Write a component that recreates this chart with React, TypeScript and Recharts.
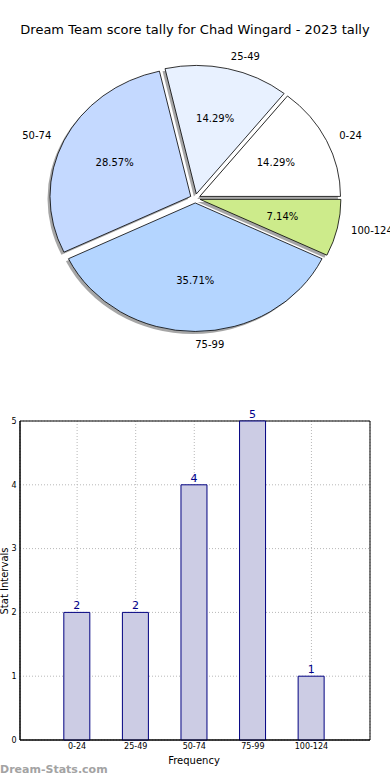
import React from 'react';
import { PieChart, Pie, Cell, BarChart, Bar, XAxis, YAxis, CartesianGrid, LabelList, ReferenceArea } from 'recharts';

const categories = ['0-24', '25-49', '50-74', '75-99', '100-124'];
const counts = [2, 2, 4, 5, 1];
const pieColors = ['#ffffff', '#e8f1ff', '#c4d9ff', '#b4d5ff', '#cdeb8b'];
const yTicks = [0, 1, 2, 3, 4, 5];
const xTicks = [0, 1, 2, 3, 4];
const title = 'Dream Team score tally for Chad Wingard - 2023 tally';

const pieData = categories.map((name, i) => ({ name, value: counts[i] }));
const barData = categories.map((name, i) => ({ x: i, name, value: counts[i] }));

const PIE_CX = 195.25;
const PIE_CY = 198.4;
const RX = 140.75;
const K = 128.5 / 140.75;
const EXPLODE = 5;
const RAD = Math.PI / 180;

function wedgePath(cx: number, cy: number, r: number, start: number, end: number) {
  const mid = ((start + end) / 2) * RAD;
  const ox = cx + EXPLODE * Math.cos(mid);
  const oy = cy - EXPLODE * K * Math.sin(mid);
  const ry = r * K;
  const p = (a: number) => [ox + r * Math.cos(a * RAD), oy - ry * Math.sin(a * RAD)];
  const [x1, y1] = p(start);
  const [x2, y2] = p(end);
  const large = Math.abs(end - start) > 180 ? 1 : 0;
  return `M${ox},${oy} L${x1},${y1} A${r},${ry} 0 ${large} 0 ${x2},${y2} Z`;
}

const WedgeShape = (props: any) => (
  <path
    d={wedgePath(props.cx, props.cy, props.outerRadius, props.startAngle, props.endAngle)}
    fill={props.fill}
    stroke="#000"
    strokeWidth={0.8}
  />
);

const ShadowShape = (props: any) => (
  <path
    d={wedgePath(props.cx, props.cy, props.outerRadius, props.startAngle, props.endAngle)}
    fill="#4d4d4d"
    fillOpacity={0.5}
    stroke="none"
  />
);

const renderLabel = (props: any) => {
  const { cx, cy, outerRadius: r, percent, name } = props;
  const midDeg = props.midAngle ?? (props.startAngle + props.endAngle) / 2;
  const a = midDeg * RAD;
  const ox = cx + EXPLODE * Math.cos(a);
  const oy = cy - EXPLODE * K * Math.sin(a);
  const lx = ox + 1.1 * r * Math.cos(a);
  const ly = oy - 1.1 * r * K * Math.sin(a);
  const px = ox + 0.6 * r * Math.cos(a);
  const py = oy - 0.6 * r * K * Math.sin(a);
  const anchor = Math.cos(a) >= -1e-9 ? 'start' : 'end';
  return (
    <g>
      <text x={lx} y={ly} textAnchor={anchor} dominantBaseline="central" fontSize={10} fill="#000">
        {name}
      </text>
      <text x={px} y={py} textAnchor="middle" dominantBaseline="central" fontSize={10} fill="#000">
        {(percent * 100).toFixed(2)}%
      </text>
    </g>
  );
};

const YTitle = () => (
  <text
    x={4}
    y={181}
    transform="rotate(-90 4 181)"
    textAnchor="middle"
    dominantBaseline="central"
    fontSize={10}
    fill="#000"
  >
    Stat Intervals
  </text>
);

const XTitle = () => (
  <text x={194} y={360} textAnchor="middle" dominantBaseline="central" fontSize={10} fill="#000">
    Frequency
  </text>
);

export default function App() {
  return (
    <div
      style={{
        position: 'absolute',
        left: 0,
        top: 0,
        width: 390,
        height: 780,
        background: '#fff',
        fontFamily: '"DejaVu Sans", sans-serif',
        overflow: 'hidden',
      }}
    >
      <div
        style={{
          position: 'absolute',
          left: 0,
          top: 21,
          width: 390,
          textAlign: 'center',
          fontSize: 13,
          color: '#000',
          lineHeight: '18px',
        }}
      >
        {title}
      </div>
      <div style={{ position: 'absolute', left: 0, top: 0 }}>
        <PieChart width={390} height={380} margin={{ top: 0, right: 0, bottom: 0, left: 0 }}>
          <Pie
            data={pieData}
            dataKey="value"
            nameKey="name"
            cx={PIE_CX - 2.5}
            cy={PIE_CY + 2.5}
            outerRadius={RX}
            startAngle={0}
            endAngle={360}
            isAnimationActive={false}
            shape={ShadowShape}
            inactiveShape={ShadowShape}
            activeShape={ShadowShape}
            stroke="none"
          />
          <Pie
            data={pieData}
            dataKey="value"
            nameKey="name"
            cx={PIE_CX}
            cy={PIE_CY}
            outerRadius={RX}
            startAngle={0}
            endAngle={360}
            isAnimationActive={false}
            shape={WedgeShape}
            inactiveShape={WedgeShape}
            activeShape={WedgeShape}
            label={renderLabel}
            labelLine={false}
          >
            {pieData.map((d, i) => (
              <Cell key={d.name} fill={pieColors[i]} />
            ))}
          </Pie>
        </PieChart>
      </div>
      <div style={{ position: 'absolute', left: 0, top: 400 }}>
        <BarChart width={390} height={380} data={barData} margin={{ top: 21, right: 20, bottom: 0, left: 0 }}>
          <XAxis
            dataKey="x"
            type="number"
            domain={[-0.975, 5]}
            ticks={xTicks}
            interval={0}
            allowDataOverflow
            tickFormatter={(v: number) => categories[v]}
            height={40}
            tickLine={false}
            tickSize={0}
            axisLine={{ stroke: '#000' }}
            tick={{ fontSize: 8, fill: '#000' }}
            tickMargin={3}
            label={{ content: XTitle }}
          />
          <YAxis
            type="number"
            domain={[0, 5]}
            ticks={yTicks}
            interval={0}
            width={20}
            tickLine={false}
            tickSize={0}
            axisLine={{ stroke: '#000' }}
            tick={{ fontSize: 8, fill: '#000' }}
            tickMargin={3.5}
            label={{ content: YTitle }}
          />
          <Bar dataKey="value" barSize={26} fill="#cccce4" stroke="#000080" strokeWidth={1} isAnimationActive={false}>
            <LabelList dataKey="value" position="top" fill="#00008b" fontSize={11} offset={3} />
          </Bar>
          <CartesianGrid stroke="#b8b8b8" strokeDasharray="1 2" />
          <ReferenceArea x1={-0.975} x2={5} y1={0} y2={5} fill="none" stroke="#000" ifOverflow="visible" />
        </BarChart>
      </div>
      <div
        style={{
          position: 'absolute',
          left: 0,
          top: 762,
          fontSize: 11,
          fontWeight: 'bold',
          color: '#a3a3a3',
          lineHeight: '16px',
        }}
      >
        Dream-Stats.com
      </div>
    </div>
  );
}
